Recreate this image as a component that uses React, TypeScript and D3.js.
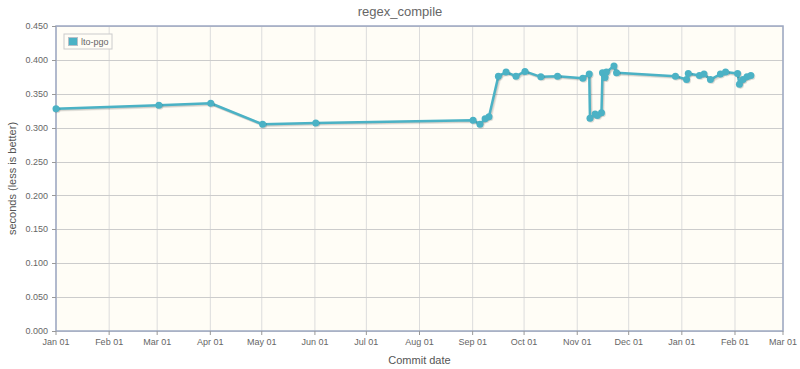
import React, { useRef, useEffect } from 'react'
import * as d3 from 'd3'

// commit dates and timings for the lto-pgo series
const commitDates = [
  '2013-01-01T00:00', '2013-03-02T00:00', '2013-04-01T06:00', '2013-05-01T12:00', '2013-06-01T12:00',
  '2013-09-01T06:00', '2013-09-05T06:00', '2013-09-08T06:00', '2013-09-10T12:00', '2013-09-16T00:00',
  '2013-09-20T12:00', '2013-09-26T06:00', '2013-10-01T12:00', '2013-10-10T18:00', '2013-10-20T12:00',
  '2013-11-04T06:00', '2013-11-08T00:00', '2013-11-08T10:00', '2013-11-11T10:00', '2013-11-12T18:00',
  '2013-11-15T03:00', '2013-11-15T17:00', '2013-11-17T04:00', '2013-11-18T00:00', '2013-11-22T10:00',
  '2013-11-23T22:00', '2013-12-28T06:00', '2014-01-03T18:00', '2014-01-04T18:00', '2014-01-11T06:00',
  '2014-01-13T22:00', '2014-01-17T16:00', '2014-01-23T12:00', '2014-01-26T12:00', '2014-02-02T12:00',
  '2014-02-03T14:00', '2014-02-05T16:00', '2014-02-08T00:00', '2014-02-10T06:00',
]
const ltoPgo = [
  0.328, 0.333, 0.336, 0.305, 0.307,
  0.311, 0.305, 0.313, 0.316, 0.376,
  0.382, 0.376, 0.383, 0.375, 0.376,
  0.373, 0.379, 0.314, 0.320, 0.318,
  0.322, 0.381, 0.374, 0.382, 0.391,
  0.381, 0.376, 0.371, 0.380, 0.377,
  0.379, 0.371, 0.379, 0.382, 0.380,
  0.364, 0.371, 0.375, 0.377,
]
const yTicks = [0, 0.05, 0.1, 0.15, 0.2, 0.25, 0.3, 0.35, 0.4, 0.45]
const seriesName = 'lto-pgo'

const App = () => {
  const chartRef = useRef<SVGSVGElement>(null)

  const width = 800
  const height = 369
  const margin = { top: 26, right: 17, bottom: 38, left: 56 }
  const innerWidth = width - margin.left - margin.right
  const innerHeight = height - margin.top - margin.bottom
  const font = '"Liberation Sans", Arial, sans-serif'
  const color = '#4bb2c5'

  useEffect(() => {
    const svg = d3.select(chartRef.current)
    svg.selectAll('*').remove()
    const parse = d3.timeParse('%Y-%m-%dT%H:%M')
    const data = commitDates.map((d, i) => ({ date: parse(d) as Date, value: ltoPgo[i] }))

    const x = d3
      .scaleTime()
      .domain([new Date(2013, 0, 1), new Date(2014, 2, 1)])
      .range([0, innerWidth])
    const y = d3.scaleLinear().domain([0, 0.45]).range([innerHeight, 0])
    const xTicks = x.ticks(d3.timeMonth.every(1) as d3.TimeInterval)

    svg
      .append('text')
      .attr('x', width / 2)
      .attr('y', 16)
      .attr('text-anchor', 'middle')
      .attr('font-family', font)
      .attr('font-size', 13)
      .attr('fill', '#666')
      .text('regex_compile')

    const chart = svg.append('g').attr('transform', `translate(${margin.left},${margin.top})`)

    chart
      .append('rect')
      .attr('width', innerWidth)
      .attr('height', innerHeight)
      .attr('fill', '#fffdf6')

    // grid
    chart
      .append('g')
      .selectAll('line')
      .data(xTicks)
      .join('line')
      .attr('x1', (d) => x(d))
      .attr('x2', (d) => x(d))
      .attr('y1', 0)
      .attr('y2', innerHeight)
      .attr('stroke', '#dcdcdc')
      .attr('stroke-width', 1)
    chart
      .append('g')
      .selectAll('line')
      .data(yTicks)
      .join('line')
      .attr('x1', 0)
      .attr('x2', innerWidth)
      .attr('y1', (d) => Math.round(y(d)) + 0.5)
      .attr('y2', (d) => Math.round(y(d)) + 0.5)
      .attr('stroke', '#cccccc')
      .attr('stroke-width', 1)

    chart
      .append('rect')
      .attr('width', innerWidth)
      .attr('height', innerHeight)
      .attr('fill', 'none')
      .attr('stroke', '#9da8c2')
      .attr('stroke-width', 1.5)

    // y axis ticks and labels
    const yAxis = chart.append('g')
    yAxis
      .selectAll('line')
      .data(yTicks)
      .join('line')
      .attr('x1', -4)
      .attr('x2', 0)
      .attr('y1', (d) => Math.round(y(d)) + 0.5)
      .attr('y2', (d) => Math.round(y(d)) + 0.5)
      .attr('stroke', '#999')
    yAxis
      .selectAll('text')
      .data(yTicks)
      .join('text')
      .attr('x', -8)
      .attr('y', (d) => y(d))
      .attr('dy', '0.35em')
      .attr('text-anchor', 'end')
      .attr('font-family', font)
      .attr('font-size', 9)
      .attr('fill', '#666')
      .text((d) => d3.format('.3f')(d))

    // x axis ticks and labels
    const xAxis = chart.append('g').attr('transform', `translate(0,${innerHeight})`)
    xAxis
      .selectAll('line')
      .data(xTicks)
      .join('line')
      .attr('x1', (d) => x(d))
      .attr('x2', (d) => x(d))
      .attr('y1', 0)
      .attr('y2', 4)
      .attr('stroke', '#999')
    xAxis
      .selectAll('text')
      .data(xTicks)
      .join('text')
      .attr('x', (d) => x(d))
      .attr('y', 14)
      .attr('text-anchor', 'middle')
      .attr('font-family', font)
      .attr('font-size', 9)
      .attr('fill', '#666')
      .text((d) => d3.timeFormat('%b %d')(d))

    svg
      .append('text')
      .attr('x', margin.left + innerWidth / 2)
      .attr('y', 364)
      .attr('text-anchor', 'middle')
      .attr('font-family', font)
      .attr('font-size', 11)
      .attr('fill', '#555')
      .text('Commit date')
    svg
      .append('text')
      .attr('transform', `translate(16,${margin.top + innerHeight / 2}) rotate(-90)`)
      .attr('text-anchor', 'middle')
      .attr('font-family', font)
      .attr('font-size', 11)
      .attr('fill', '#555')
      .text('seconds (less is better)')

    // series
    const line = d3
      .line<{ date: Date; value: number }>()
      .x((d) => x(d.date))
      .y((d) => y(d.value))
    const series = chart.append('g')
    ;[3, 2, 1].forEach((off) => {
      series
        .append('path')
        .datum(data)
        .attr('d', line)
        .attr('transform', `translate(${off * 0.6},${off * 0.6})`)
        .attr('fill', 'none')
        .attr('stroke', 'rgba(0,0,0,0.07)')
        .attr('stroke-width', 2.5)
    })
    series
      .append('path')
      .datum(data)
      .attr('d', line)
      .attr('fill', 'none')
      .attr('stroke', color)
      .attr('stroke-width', 2.5)
      .attr('stroke-linejoin', 'round')
    series
      .selectAll('circle.shadow')
      .data(data)
      .join('circle')
      .attr('class', 'shadow')
      .attr('cx', (d) => x(d.date) + 1)
      .attr('cy', (d) => y(d.value) + 1)
      .attr('r', 3.5)
      .attr('fill', 'rgba(0,0,0,0.12)')
    series
      .selectAll('circle.pt')
      .data(data)
      .join('circle')
      .attr('class', 'pt')
      .attr('cx', (d) => x(d.date))
      .attr('cy', (d) => y(d.value))
      .attr('r', 3.5)
      .attr('fill', color)

    // legend
    const legend = chart.append('g').attr('transform', 'translate(8,8)')
    legend
      .append('rect')
      .attr('width', 48)
      .attr('height', 15)
      .attr('fill', '#fffdf6')
      .attr('stroke', '#cccccc')
    legend
      .append('rect')
      .attr('x', 4.5)
      .attr('y', 3.5)
      .attr('width', 9)
      .attr('height', 8)
      .attr('fill', color)
      .attr('stroke', '#b8c0c8')
    legend
      .append('text')
      .attr('x', 17)
      .attr('y', 11)
      .attr('font-family', font)
      .attr('font-size', 9)
      .attr('fill', '#666')
      .text(seriesName)
  }, [])

  return (
    <svg
      ref={chartRef}
      width={width}
      height={height}
      style={{ position: 'absolute', left: 0, top: 0, background: '#fff' }}
    />
  )
}

export default App
